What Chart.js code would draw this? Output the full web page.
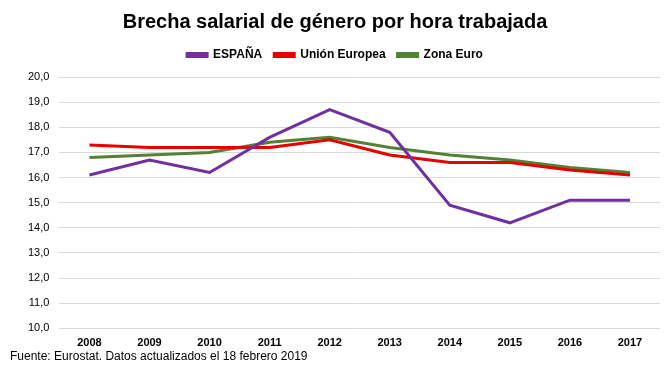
<!DOCTYPE html>
<html><head><meta charset="utf-8">
<script src="https://cdn.jsdelivr.net/npm/chart.js@4/dist/chart.umd.min.js"></script>
<style>html,body{margin:0;padding:0;background:#fff}</style>
</head><body>
<canvas id="c" width="671" height="379"></canvas>
<script>
const years = ['2008','2009','2010','2011','2012','2013','2014','2015','2016','2017'];
const espana = [16.1, 16.7, 16.2, 17.6, 18.7, 17.8, 14.9, 14.2, 15.1, 15.1];
const unionEuropea = [17.3, 17.2, 17.2, 17.2, 17.5, 16.9, 16.6, 16.6, 16.3, 16.1];
const zonaEuro = [16.8, 16.9, 17.0, 17.4, 17.6, 17.2, 16.9, 16.7, 16.4, 16.2];
const FONT = "'Liberation Sans', Arial, sans-serif";

const legendGap = {
  id: 'legendGap',
  beforeInit(chart) {
    const lg = chart.legend;
    const orig = lg.fit;
    lg.fit = function() { orig.call(this); this.height += 6; };
  }
};

new Chart(document.getElementById('c'), {
  type: 'line',
  data: {
    labels: years,
    datasets: [
      {label: 'ESPAÑA', data: espana, borderColor: '#7030A0', backgroundColor: '#7030A0'},
      {label: 'Unión Europea', data: unionEuropea, borderColor: '#E60000', backgroundColor: '#E60000'},
      {label: 'Zona Euro', data: zonaEuro, borderColor: '#538135', backgroundColor: '#538135'}
    ].map(d => Object.assign(d, {borderWidth: 3, pointRadius: 0, tension: 0, fill: false}))
  },
  options: {
    responsive: false,
    animation: false,
    layout: {padding: {left: 10, right: 11, top: 6, bottom: 1}},
    plugins: {
      title: {display: true, text: 'Brecha salarial de género por hora trabajada', color: '#000',
        font: {family: FONT, size: 20, weight: 'bold'}, padding: {top: 4, bottom: 3}},
      legend: {display: true, labels: {color: '#000', font: {family: FONT, size: 12, weight: 'bold'},
        boxWidth: 20, boxHeight: 3, padding: 12}},
      subtitle: {display: true, position: 'bottom', align: 'start', text: 'Fuente: Eurostat. Datos actualizados el 18 febrero 2019',
        color: '#000', font: {family: FONT, size: 12, weight: 'normal'}, padding: {top: 0, bottom: 14}},
      tooltip: {enabled: false}
    },
    scales: {
      x: {offset: true, grid: {display: false}, border: {display: false},
        ticks: {color: '#000', font: {family: FONT, size: 11, weight: 'bold'}, padding: 0}},
      y: {min: 10, max: 20, grid: {color: '#d9d9d9', drawTicks: false, lineWidth: 1}, border: {display: false},
        afterFit: axis => { axis.width += 8; },
        ticks: {stepSize: 1, color: '#000', font: {family: FONT, size: 11}, padding: 10,
          callback: v => v.toFixed(1).replace('.', ',')}}
    }
  },
  plugins: [legendGap]
});
</script>
</body></html>
